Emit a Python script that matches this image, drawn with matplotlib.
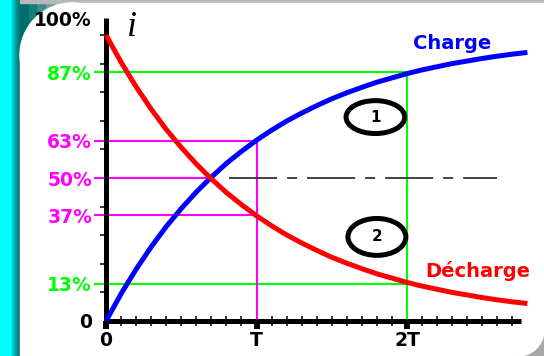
import matplotlib
matplotlib.use("Agg")
import matplotlib.pyplot as plt
import numpy as np
from matplotlib.patches import Circle, Ellipse, Rectangle
from matplotlib.ticker import FixedLocator

plt.rcParams["lines.scale_dashes"] = False

# time in units of T, current in % of its final value
t = [0.0, 0.1, 0.2, 0.3, 0.4, 0.5, 0.6, 0.7, 0.8, 0.9, 1.0,
     1.1, 1.2, 1.3, 1.4, 1.5, 1.6, 1.7, 1.8, 1.9, 2.0,
     2.1, 2.2, 2.3, 2.4, 2.5, 2.6, 2.7, 2.8]
charge = [0, 9.5, 18.1, 25.9, 33.0, 39.3, 45.1, 50.3, 55.1, 59.3, 63.2,
          66.7, 69.9, 72.7, 75.3, 77.7, 79.8, 81.7, 83.5, 85.0, 86.5,
          87.8, 88.9, 90.0, 90.9, 91.8, 92.6, 93.3, 93.9]
discharge = [100, 90.5, 81.9, 74.1, 67.0, 60.7, 54.9, 49.7, 44.9, 40.7, 36.8,
             33.3, 30.1, 27.3, 24.7, 22.3, 20.2, 18.3, 16.5, 15.0, 13.5,
             12.2, 11.1, 10.0, 9.1, 8.2, 7.4, 6.7, 6.1]

level_values = [0, 13, 37, 50, 63, 87]
level_labels = ["0", "13%", "37%", "50%", "63%", "87%"]
time_ticks = [0, 1, 2]
time_labels = ["0", "T", "2T"]
t_half = 0.7

GREEN = "#00ff00"
MAGENTA = "#ff00ff"
level_colors = ["black", GREEN, MAGENTA, MAGENTA, MAGENTA, GREEN]

W, H = 544, 356
fig = plt.figure(figsize=(W / 100, H / 100), dpi=100)

# ---- decorative frame (pixel coordinates) ----
bg = fig.add_axes([0, 0, 1, 1])
bg.axis("off")
strip = np.array([[0, 255, 255]] * 11 + [[0, 235, 235], [0, 215, 215], [0, 195, 195],
                  [0, 178, 178], [0, 162, 162], [0, 148, 148], [0, 136, 136],
                  [0, 126, 126], [0, 118, 118]]) / 255.0
bg.imshow(strip[None, :, :], extent=(0, 20, H, 0), aspect="auto", zorder=1)
corner = np.array([[0, 110, 110], [20, 125, 125], [60, 140, 140], [110, 160, 160],
                   [160, 180, 180], [200, 205, 205]]) / 255.0
bg.imshow(corner[None, :, :], extent=(20, 72, 55, 0), aspect="auto", zorder=1)
bg.add_patch(Rectangle((20, 0), W - 20, 3, color="#b8b8b8", zorder=2))
bg.add_patch(Circle((72, 55), 52, color="white", zorder=3))
bg.add_patch(Rectangle((20, 55), 60, H, color="white", zorder=3))
bg.add_patch(Rectangle((72, 3), W, H, color="white", zorder=3))
bg.add_patch(Rectangle((518, 330), 40, 40, color="#a8a8a8", zorder=4))
bg.add_patch(Circle((518, 330), 26, color="white", zorder=5))
bg.set_xlim(0, W)
bg.set_ylim(H, 0)

# ---- chart ----
ax = fig.add_axes([0, 0, 1, 1])
ax.patch.set_visible(False)
ax.set_xlim(-106 / 150.5, (W - 106) / 150.5)
ax.set_ylim((321 - H) / 2.86, 321 / 2.86)

for side in ["top", "right"]:
    ax.spines[side].set_visible(False)
ax.spines["left"].set_position(("data", 0))
ax.spines["bottom"].set_position(("data", 0))
ax.spines["left"].set_bounds(-1, 106)
ax.spines["bottom"].set_bounds(-0.015, 2.76)
for side in ["left", "bottom"]:
    ax.spines[side].set_linewidth(3.6)
    ax.spines[side].set_capstyle("butt")

ax.set_xticks(time_ticks, labels=time_labels)
ax.xaxis.set_minor_locator(FixedLocator(np.arange(0.1, 2.75, 0.1)))
ax.tick_params(axis="x", which="major", direction="out", length=6, width=4.3,
               pad=1.5, labelsize=13.5)
ax.tick_params(axis="x", which="minor", direction="inout", length=6.5, width=1.1)

ax.set_yticks(level_values, labels=level_labels)
ax.yaxis.set_minor_locator(FixedLocator(np.arange(10, 101, 10)))
ax.tick_params(axis="y", which="major", length=0, pad=10, labelsize=13.5)
ax.tick_params(axis="y", which="minor", direction="out", length=4.5, width=1.1)
for lbl in ax.get_xticklabels():
    lbl.set_fontweight("bold")
for lbl, c in zip(ax.get_yticklabels(), level_colors):
    lbl.set_fontweight("bold")
    lbl.set_color(c)
ax.text(-0.093, 104.9, "100%", ha="right", va="center", fontsize=13.5,
        fontweight="bold", color="black")

# guide lines
x_left = -0.07
ax.plot([x_left, time_ticks[2]], [level_values[5]] * 2, color=GREEN, lw=1.5)
ax.plot([x_left, time_ticks[2]], [level_values[1]] * 2, color=GREEN, lw=1.5)
ax.plot([time_ticks[2]] * 2, [0, level_values[5]], color=GREEN, lw=1.5)
ax.plot([x_left, time_ticks[1]], [level_values[4]] * 2, color=MAGENTA, lw=1.5)
ax.plot([x_left, time_ticks[1]], [level_values[2]] * 2, color=MAGENTA, lw=1.5)
ax.plot([time_ticks[1]] * 2, [0, level_values[4]], color=MAGENTA, lw=1.5)
ax.plot([x_left, t_half], [level_values[3]] * 2, color=MAGENTA, lw=1.5)
ax.plot([0.82, 2.6], [level_values[3]] * 2, color="#222222", lw=1.2,
        dashes=(34.6, 7.2, 7.2, 7.2))

# curves
ax.plot(t, charge, color="#0000ff", lw=3.6, zorder=4, solid_capstyle="butt")
ax.plot(t, discharge, color="#ff0000", lw=3.6, zorder=4, solid_capstyle="butt")

# annotations
ax.text(2.30, 97.2, "Charge", color="#0000ff", fontsize=14, fontweight="bold",
        ha="center", va="center")
ax.text(2.47, 17.5, "Décharge", color="#ff0000", fontsize=14, fontweight="bold",
        ha="center", va="center")
ax.text(0.17, 102.5, "i", family="Liberation Serif", style="italic", fontsize=26,
        ha="center", va="center")
for (cx, cy, ew, eh), num in zip([(1.79, 71.3, 0.39, 11.5), (1.80, 29.4, 0.385, 12.9)],
                                 ["1", "2"]):
    ax.add_patch(Ellipse((cx, cy), ew, eh, fill=False, ec="black", lw=3.6, zorder=5))
    ax.text(cx, cy, num, fontsize=11, fontweight="bold", ha="center", va="center",
            zorder=6)

fig.savefig("out.png", dpi=100)
